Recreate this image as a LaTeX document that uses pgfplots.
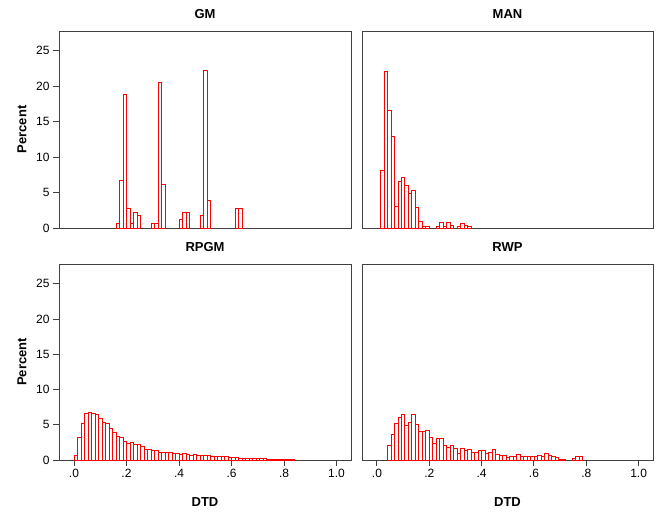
\documentclass[border=0pt]{standalone}
\usepackage{pgfplots}
\pgfplotsset{compat=1.18}
\usepackage{pgfplotstable}
\usepackage{fontspec}
\setmainfont{Liberation Sans}

% bins of width 1/75 ; k = bin index, p = percent
\pgfplotstableread{
k p
12 0.66
13 6.67
14 18.9
15 2.82
16 0.66
17 2.25
18 1.74
22 0.66
23 0.66
24 20.5
25 6.16
30 1.17
31 2.25
32 2.25
36 1.74
37 22.2
38 3.94
46 2.82
47 2.82
}\gm

\pgfplotstableread{
k p
1 8.2
2 22.1
3 16.6
4 12.9
5 3.05
6 6.6
7 7.2
8 6.06
9 4.9
10 5.26
11 2.9
12 0.99
13 0.28
14 0.28
17 0.28
18 0.85
19 0.28
20 0.85
21 0.4
23 0.28
24 0.66
25 0.38
26 0.19
}\man

\pgfplotstableread{
k p
0 0.7
1 3.2
2 5.15
3 6.57
4 6.76
5 6.67
6 6.43
7 5.96
8 5.39
9 5.15
10 4.54
11 3.93
12 3.36
13 3.21
14 2.6
15 2.36
16 2.5
17 2.2
18 2.2
19 1.94
20 1.56
21 1.47
22 1.37
23 1.32
24 1.13
25 1.13
26 1.09
27 1.04
28 1.0
29 0.95
30 0.85
31 0.9
32 0.8
33 0.7
34 0.75
35 0.7
36 0.65
37 0.62
38 0.6
39 0.55
40 0.5
41 0.52
42 0.45
43 0.45
44 0.42
45 0.35
46 0.33
47 0.3
48 0.3
49 0.25
50 0.25
51 0.22
52 0.2
53 0.18
54 0.18
55 0.15
56 0.13
57 0.12
58 0.1
59 0.1
60 0.08
61 0.07
62 0.06
}\rpgm

\pgfplotstableread{
k p
3 2.13
4 3.64
5 5.2
6 6.0
7 6.48
8 4.96
9 5.35
10 6.48
11 5.1
12 4.0
13 4.1
14 4.2
15 3.2
16 2.3
17 3.07
18 3.1
19 2.13
20 1.84
21 2.13
22 1.7
23 0.95
24 1.65
25 1.37
26 1.47
27 1.09
28 1.09
29 1.3
30 1.3
31 1.0
32 1.1
33 1.45
34 0.8
35 0.6
36 0.6
37 0.4
38 0.45
39 0.55
40 0.75
41 0.45
42 0.45
43 0.55
44 0.45
45 0.45
46 0.6
47 0.55
48 0.9
49 0.6
50 0.55
51 0.35
52 0.15
53 0.1
56 0.2
57 0.5
58 0.45
}\rwp

\begin{document}
\begin{tikzpicture}
\useasboundingbox (0pt,0pt) rectangle (661pt,-515pt);
\pgfplotsset{
  panel/.style={
    scale only axis, anchor=south west,
    xmin=-0.057, xmax=1.055, ymin=0, ymax=27.8,
    axis line style={draw=black!75, line width=0.9pt},
    tick style={draw=black!75, line width=0.9pt},
    tick align=outside, major tick length=6pt,
    ytick={0,5,...,25},
    xtick={0,0.2,0.4,0.6,0.8,1.0},
    xticklabels={.0,.2,.4,.6,.8,1.0},
    /pgf/number format/assume math mode=true,
    ticklabel style={font=\fontsize{12}{14}\selectfont},
    title style={font=\bfseries\fontsize{13}{15}\selectfont, yshift=3pt},
    label style={font=\bfseries\fontsize{13}{15}\selectfont},
    xtick pos=bottom, ytick pos=left,
    ylabel={Percent},
    ylabel style={at={(axis description cs:-0.127,0.5)}, anchor=center},
    xlabel={DTD},
    xlabel style={at={(axis description cs:0.5,-0.216)}, anchor=center},
  },
  hist/.style={ybar, bar width=0.013333, bar shift=0pt, draw=red, fill=white, line width=0.7pt},
}
% GM
\begin{axis}[panel, at={(59pt,-228pt)}, width=292pt, height=197pt, title={GM},
  xtick=\empty, xlabel={}]
\addplot[hist] table[x expr={(\thisrow{k}+0.5)/75}, y=p]{\gm};
\end{axis}
% MAN
\begin{axis}[panel, at={(362pt,-228pt)}, width=291pt, height=197pt, title={MAN},
  xtick=\empty, ytick=\empty, xlabel={}, ylabel={}]
\addplot[hist] table[x expr={(\thisrow{k}+0.5)/75}, y=p]{\man};
\end{axis}
% RPGM
\begin{axis}[panel, at={(59pt,-460pt)}, width=292pt, height=196pt, title={RPGM}]
\addplot[hist] table[x expr={(\thisrow{k}+0.5)/75}, y=p]{\rpgm};
\end{axis}
% RWP
\begin{axis}[panel, at={(362pt,-460pt)}, width=291pt, height=196pt, title={RWP},
  ytick=\empty, ylabel={}]
\addplot[hist] table[x expr={(\thisrow{k}+0.5)/75}, y=p]{\rwp};
\end{axis}
\end{tikzpicture}
\end{document}
